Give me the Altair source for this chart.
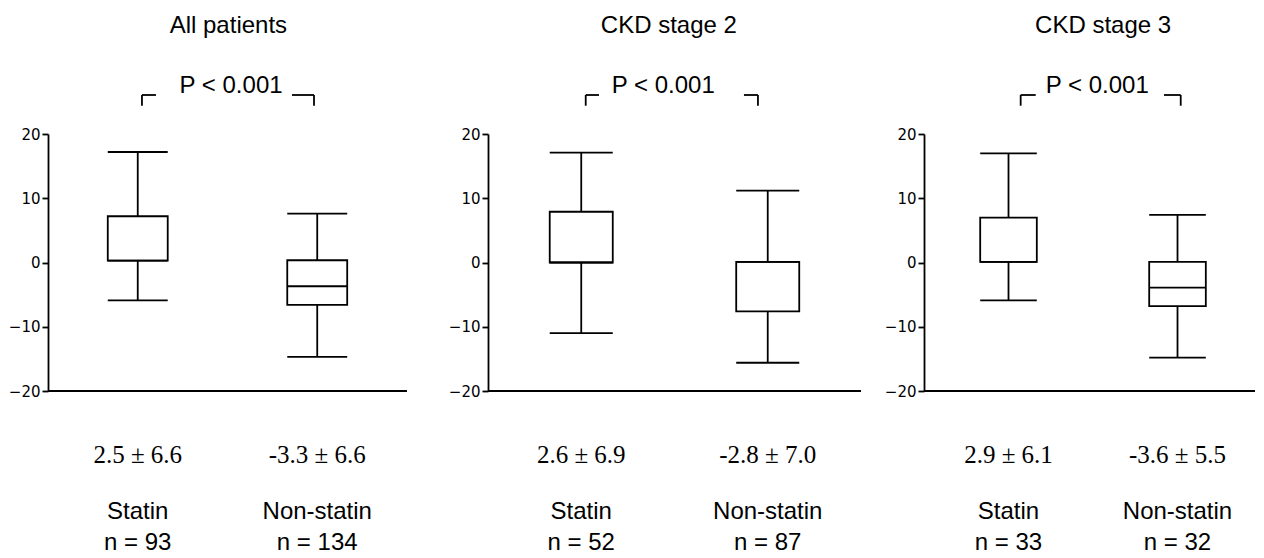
import altair as alt
import pandas as pd

# ---------------- data ----------------
panel_titles = ["All patients", "CKD stage 2", "CKD stage 3"]
groups = ["Statin", "Non-statin"]
group_x = [1, 3]
lower = [[-5.9, -14.7], [-11.0, -15.6], [-5.9, -14.8]]
q1 = [[0.3, -6.6], [0.0, -7.6], [0.1, -6.8]]
median = [[0.3, -3.7], [0.0, 0.1], [0.1, -3.9]]
q3 = [[7.2, 0.35], [7.9, 0.1], [7.0, 0.1]]
upper = [[17.2, 7.6], [17.1, 11.2], [17.0, 7.4]]
mean_sd = [["2.5 ± 6.6", "-3.3 ± 6.6"], ["2.6 ± 6.9", "-2.8 ± 7.0"], ["2.9 ± 6.1", "-3.6 ± 5.5"]]
n_labels = [["n = 93", "n = 134"], ["n = 52", "n = 87"], ["n = 33", "n = 32"]]
p_values = ["P < 0.001", "P < 0.001", "P < 0.001"]
y_ticks = [-20, -10, 0, 10, 20]

# ---------------- layout helpers ----------------
panel_w = [378, 374, 331]
x_max = [4.212, 4.011, 3.917]
base_end = [4.0, 4.0, 3.917]
half_w = [0.334, 0.338, 0.335]
title_x = [2.01, 1.94, 2.12]
p_x = [2.04, 1.88, 2.05]
brackets = [[1.047, 1.203, 2.719, 2.964], [1.048, 1.19, 2.745, 2.895], [1.144, 1.322, 2.84, 3.038]]
Y_TITLE, Y_P, Y_BR_TOP, Y_BR_BOT = 36.8, 27.5, 26.07, 24.4
Y_STATS, Y_GROUP, Y_N = -29.96, -38.83, -43.6
PLOT_H = 257
LW = 1.8
SANS = "Liberation Sans"


def panel(i):
    xs = alt.Scale(domain=[0, x_max[i]], nice=False, zero=False)
    ys = alt.Scale(domain=[-20, 20], nice=False, zero=False)
    yaxis = alt.Axis(values=y_ticks, grid=False, domainColor="black", domainWidth=LW,
                     tickColor="black", tickWidth=LW, tickSize=6, labelPadding=2,
                     labelFont="DejaVu Sans", labelFontSize=15, labelColor="black",
                     title=None)

    def X(f):
        return alt.X(f, type="quantitative", scale=xs, axis=None)

    def Y(f):
        return alt.Y(f, type="quantitative", scale=ys, axis=yaxis)

    box = pd.DataFrame({
        "group": groups,
        "x": group_x,
        "xl": [g - half_w[i] for g in group_x],
        "xr": [g + half_w[i] for g in group_x],
        "lo": lower[i], "q1": q1[i], "med": median[i], "q3": q3[i], "hi": upper[i],
    })
    base = alt.Chart(box)
    whisker = base.mark_rule(color="black", strokeWidth=LW).encode(x=X("x"), y=Y("lo"), y2="hi")
    cap_lo = base.mark_rule(color="black", strokeWidth=LW).encode(x=X("xl"), x2="xr", y=Y("lo"))
    cap_hi = base.mark_rule(color="black", strokeWidth=LW).encode(x=X("xl"), x2="xr", y=Y("hi"))
    boxes = base.mark_bar(fill="white", stroke="black", strokeWidth=LW).encode(
        x=X("xl"), x2="xr", y=Y("q1"), y2="q3")
    med = base.mark_rule(color="black", strokeWidth=LW).encode(x=X("xl"), x2="xr", y=Y("med"))

    baseline = alt.Chart(pd.DataFrame({"xa": [0], "xb": [base_end[i]], "yv": [-20]})).mark_rule(
        color="black", strokeWidth=LW).encode(x=X("xa"), x2="xb", y=Y("yv"))

    b = brackets[i]
    br_h = pd.DataFrame({"xa": [b[0], b[2]], "xb": [b[1], b[3]], "yv": [Y_BR_TOP, Y_BR_TOP]})
    br_v = pd.DataFrame({"xa": [b[0], b[3]], "ya": [Y_BR_TOP, Y_BR_TOP], "yb": [Y_BR_BOT, Y_BR_BOT]})
    bracket_h = alt.Chart(br_h).mark_rule(color="black", strokeWidth=LW).encode(
        x=X("xa"), x2="xb", y=Y("yv"))
    bracket_v = alt.Chart(br_v).mark_rule(color="black", strokeWidth=LW).encode(
        x=X("xa"), y=Y("ya"), y2="yb")

    sans_txt = pd.DataFrame({
        "t": [panel_titles[i], p_values[i], groups[0], groups[1], n_labels[i][0], n_labels[i][1]],
        "x": [title_x[i], p_x[i], group_x[0], group_x[1], group_x[0], group_x[1]],
        "y": [Y_TITLE, Y_P, Y_GROUP, Y_GROUP, Y_N, Y_N],
    })
    sans = alt.Chart(sans_txt).mark_text(font=SANS, fontSize=24, color="black",
                                         align="center", baseline="middle").encode(
        x=X("x"), y=Y("y"), text="t:N")

    serif_txt = pd.DataFrame({"t": mean_sd[i], "x": group_x, "y": [Y_STATS, Y_STATS]})
    serif = alt.Chart(serif_txt).mark_text(font="Liberation Serif", fontSize=25, color="black",
                                           align="center", baseline="middle").encode(
        x=X("x"), y=Y("y"), text="t:N")

    return alt.layer(whisker, cap_lo, cap_hi, boxes, med, baseline, bracket_h, bracket_v,
                     sans, serif).properties(width=panel_w[i], height=PLOT_H)


chart = alt.hconcat(panel(0), panel(1), panel(2), spacing=62, bounds="flush").properties(
    padding={"left": 0, "top": 6, "right": 0, "bottom": 0},
    background="white",
).configure_view(stroke=None)

chart.save("out.html", embed_options={"renderer": "svg", "actions": False})
